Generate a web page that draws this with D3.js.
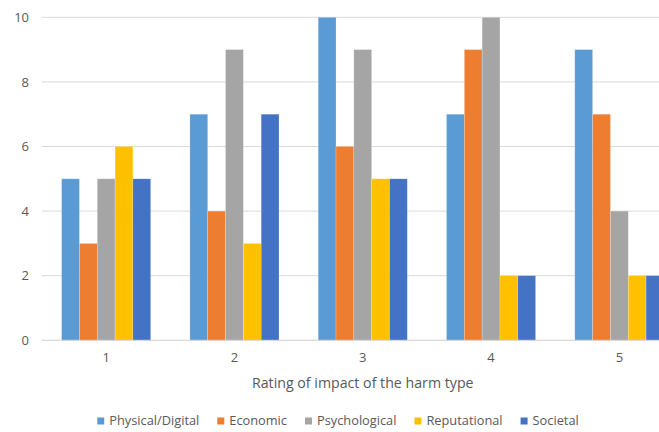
<!DOCTYPE html>
<html>
<head>
<meta charset="utf-8">
<script src="https://cdnjs.cloudflare.com/ajax/libs/d3/7.8.5/d3.min.js"></script>
<style>
  html, body { margin: 0; padding: 0; background: #fff; overflow: hidden; }
  svg { display: block; font-family: "Open Sans", "Liberation Sans", sans-serif; }
</style>
</head>
<body>
<svg id="chart" width="659" height="432"></svg>
<script>
// Ratings on the x axis
const categories = ["1", "2", "3", "4", "5"];
// Harm types (one bar per type in each rating group)
const seriesNames = ["Physical/Digital", "Economic", "Psychological", "Reputational", "Societal"];
const seriesColors = ["#5B9BD5", "#ED7D31", "#A5A5A5", "#FFC000", "#4472C4"];
// Counts per rating, one array per harm type
const physicalDigital = [5, 7, 10, 7, 9];
const economic        = [3, 4, 6, 9, 7];
const psychological   = [5, 9, 9, 10, 4];
const reputational    = [6, 3, 5, 2, 2];
const societal        = [5, 7, 5, 2, 2];
const yTicks = [0, 2, 4, 6, 8, 10];
const xTitle = "Rating of impact of the harm type";

const seriesValues = [physicalDigital, economic, psychological, reputational, societal];

const svg = d3.select("#chart");
const plot = { left: 42, right: 683.5, top: 17.3, bottom: 340.3 };

const x0 = d3.scaleBand().domain(categories).range([plot.left, plot.right]).paddingInner(0).paddingOuter(0);
const x1 = d3.scaleBand().domain(seriesNames).range([0, x0.bandwidth()]).paddingInner(0).paddingOuter(1.1);
const y = d3.scaleLinear().domain([0, 10]).range([plot.bottom, plot.top]);

// Horizontal gridlines
svg.append("g").selectAll("line").data(yTicks).join("line")
  .attr("x1", plot.left).attr("x2", plot.right)
  .attr("y1", d => y(d)).attr("y2", d => y(d))
  .attr("stroke", "#D9D9D9").attr("stroke-width", 1);

// Y axis labels
const yAxis = d3.axisLeft(y).tickValues(yTicks).tickSize(0).tickPadding(0).tickFormat(d3.format("d"));
const yg = svg.append("g").attr("transform", `translate(${29},0)`).call(yAxis);
yg.select(".domain").remove();
yg.selectAll("text").attr("fill", "#595959").attr("font-size", 13)
  .attr("font-family", "'Open Sans', sans-serif");

// Bars
const rows = categories.map((c, i) => ({ cat: c, vals: seriesNames.map((s, j) => ({ s, j, v: seriesValues[j][i] })) }));
const groups = svg.append("g").selectAll("g").data(rows).join("g")
  .attr("transform", d => `translate(${x0(d.cat)},0)`);
groups.selectAll("rect").data(d => d.vals).join("rect")
  .attr("x", d => x1(d.s))
  .attr("width", x1.bandwidth())
  .attr("y", d => y(d.v))
  .attr("height", d => y(0) - y(d.v))
  .attr("fill", d => seriesColors[d.j])
  .attr("stroke", "#ffffff").attr("stroke-opacity", 0.35).attr("stroke-width", 0.6);

// Baseline
svg.append("line").attr("x1", plot.left).attr("x2", plot.right)
  .attr("y1", y(0)).attr("y2", y(0)).attr("stroke", "#D9D9D9").attr("stroke-width", 1);

// X axis category labels
const xAxis = d3.axisBottom(x0).tickSize(0).tickPadding(0);
const xg = svg.append("g").attr("transform", `translate(0,${353})`).call(xAxis);
xg.select(".domain").remove();
xg.selectAll("text").attr("fill", "#595959").attr("font-size", 13)
  .attr("font-family", "'Open Sans', sans-serif");

// X axis title
svg.append("text").attr("x", (plot.left + plot.right) / 2).attr("y", 388)
  .attr("text-anchor", "middle").attr("fill", "#595959").attr("font-size", 14.2)
  .text(xTitle);

// Legend
const legend = svg.append("g");
const items = legend.selectAll("g").data(seriesNames).join("g");
items.append("rect").attr("width", 7).attr("height", 7).attr("y", -7.5)
  .attr("fill", (d, i) => seriesColors[i]);
items.append("text").attr("x", 12).attr("y", 0).attr("fill", "#595959")
  .attr("font-size", 12.8).text(d => d);
let cx = 0;
const offsets = [];
items.each(function () {
  offsets.push(cx);
  cx += 12 + this.querySelector("text").getComputedTextLength() + 18;
});
const total = cx - 18;
const startX = 338 - total / 2;
items.attr("transform", (d, i) => `translate(${startX + offsets[i]},${425})`);
</script>
</body>
</html>
